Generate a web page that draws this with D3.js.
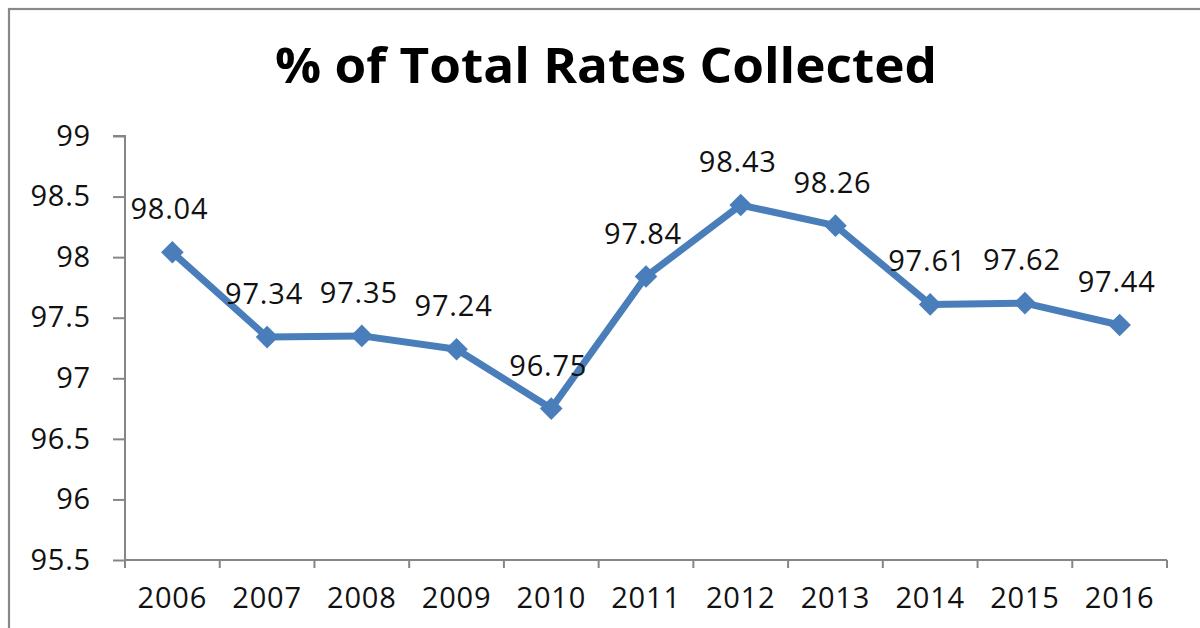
<!DOCTYPE html>
<html>
<head>
<meta charset="utf-8">
<script src="https://cdn.jsdelivr.net/npm/d3@7"></script>
<style>
  html, body { margin: 0; padding: 0; background: #fff; }
  svg { display: block; }
</style>
</head>
<body>
<svg id="chart" width="1200" height="628"></svg>
<script>
const title = "% of Total Rates Collected";
const years = ["2006","2007","2008","2009","2010","2011","2012","2013","2014","2015","2016"];
const rates = [98.04, 97.34, 97.35, 97.24, 96.75, 97.84, 98.43, 98.26, 97.61, 97.62, 97.44];
const yTicks = [95.5, 96, 96.5, 97, 97.5, 98, 98.5, 99];

const svg = d3.select("#chart");
const font = "'Open Sans', 'Liberation Sans', sans-serif";
const axisColor = "#868686";
const lineColor = "#4a7ebb";
const labelSize = 29;
const labelSpacing = "0.8px";

// outer frame
svg.append("rect")
  .attr("x", 9).attr("y", 9)
  .attr("width", 1200).attr("height", 640)
  .attr("fill", "#fff")
  .attr("stroke", "#888").attr("stroke-width", 2.2);

// title
svg.append("text")
  .attr("x", 606).attr("y", 83)
  .attr("text-anchor", "middle")
  .attr("font-family", font)
  .attr("font-weight", "bold")
  .attr("font-size", 48)
  .attr("textLength", 662)
  .attr("lengthAdjust", "spacingAndGlyphs")
  .attr("fill", "#000")
  .text(title);

const x = d3.scaleBand().domain(years).range([125, 1167]);
const y = d3.scaleLinear().domain([95.5, 99]).range([560, 136]);

// Y axis
const yAxis = svg.append("g")
  .attr("transform", "translate(125,0)")
  .call(d3.axisLeft(y).tickValues(yTicks).tickFormat(d3.format("")).tickSize(12).tickPadding(22));
yAxis.select(".domain").attr("stroke", axisColor).attr("stroke-width", 2)
  .attr("d", `M-12,${y(99)}H0V568`);
yAxis.selectAll(".tick line").attr("stroke", axisColor).attr("stroke-width", 2);
yAxis.selectAll(".tick text")
  .attr("font-family", font).attr("font-size", labelSize).attr("fill", "#111")
  .attr("letter-spacing", labelSpacing);

// X axis
const xAxis = svg.append("g")
  .attr("transform", "translate(0,560)")
  .call(d3.axisBottom(x).tickSize(0).tickPadding(27));
xAxis.select(".domain").attr("stroke", axisColor).attr("stroke-width", 2)
  .attr("d", `M${x.range()[0]},0H${x.range()[1]}`);
xAxis.selectAll(".tick text")
  .attr("font-family", font).attr("font-size", labelSize).attr("fill", "#111")
  .attr("letter-spacing", labelSpacing)
  .attr("dy", "0.71em");

// category boundary ticks
const bounds = years.map(d => x(d)).concat([x.range()[1]]);
xAxis.selectAll(".bound").data(bounds).join("line")
  .attr("class", "bound")
  .attr("x1", d => d).attr("x2", d => d)
  .attr("y1", 0).attr("y2", 8)
  .attr("stroke", axisColor).attr("stroke-width", 2);

// line
const pts = years.map((yr, i) => ({ yr, v: rates[i] }));
const line = d3.line()
  .x(d => x(d.yr) + x.bandwidth() / 2)
  .y(d => y(d.v));
svg.append("path")
  .datum(pts)
  .attr("d", line)
  .attr("fill", "none")
  .attr("stroke", lineColor)
  .attr("stroke-width", 7)
  .attr("stroke-linejoin", "round");

// markers (diamonds)
svg.selectAll(".marker").data(pts).join("rect")
  .attr("class", "marker")
  .attr("x", -8).attr("y", -8)
  .attr("width", 16).attr("height", 16)
  .attr("fill", lineColor)
  .attr("transform", d => `translate(${x(d.yr) + x.bandwidth() / 2},${y(d.v)}) rotate(45)`);

// data labels
svg.selectAll(".dlabel").data(pts).join("text")
  .attr("class", "dlabel")
  .attr("x", d => x(d.yr) + x.bandwidth() / 2 - 3)
  .attr("y", d => y(d.v) - 33)
  .attr("text-anchor", "middle")
  .attr("font-family", font)
  .attr("font-size", labelSize)
  .attr("letter-spacing", labelSpacing)
  .attr("fill", "#111")
  .text(d => d.v.toFixed(2));
</script>
</body>
</html>
